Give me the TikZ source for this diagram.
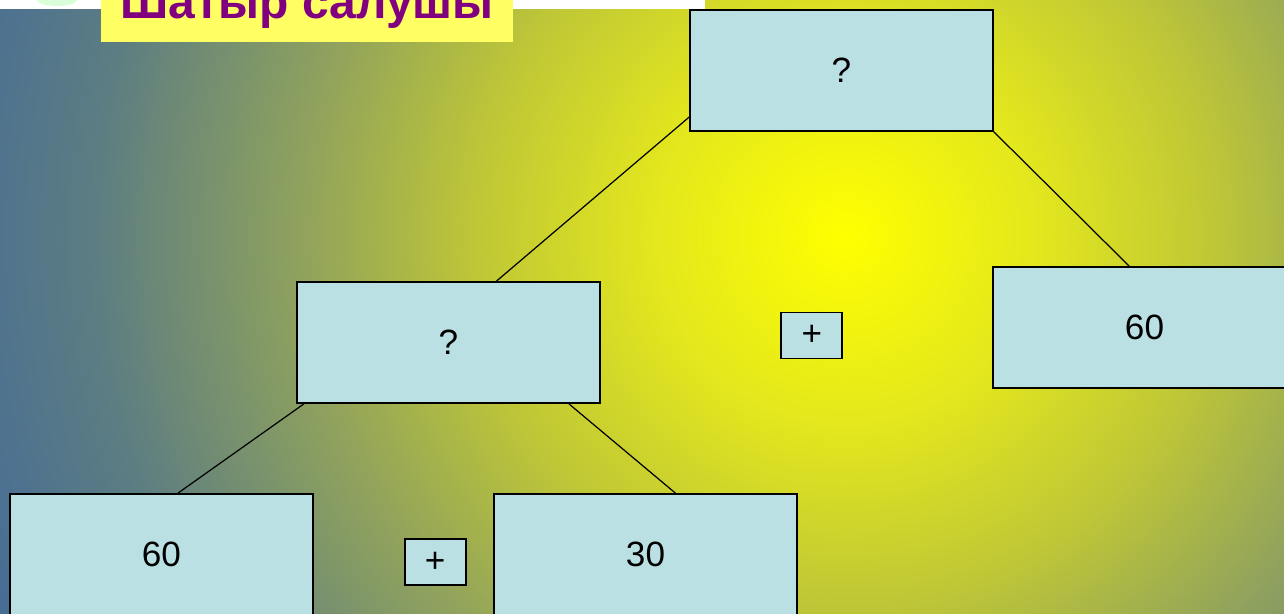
\documentclass[tikz,border=0pt]{standalone}
\usepackage{fontspec}
\setmainfont{Liberation Sans}
\usepackage{tikz}
\usetikzlibrary{positioning}

\definecolor{boxfill}{RGB}{187,224,227}
\definecolor{titlefill}{RGB}{255,255,100}
\definecolor{titletext}{RGB}{128,0,128}
\definecolor{bgA}{RGB}{255,255,0}
\definecolor{bgB}{RGB}{228,232,28}
\definecolor{bgC}{RGB}{190,198,55}
\definecolor{bgD}{RGB}{145,163,92}
\definecolor{bgE}{RGB}{92,125,130}
\definecolor{bgF}{RGB}{70,108,150}
\pgfdeclareradialshading{glow}{\pgfpoint{0bp}{0bp}}{color(0bp)=(bgA); color(5bp)=(bgB); color(10bp)=(bgC); color(14.5bp)=(bgD); color(20.2bp)=(bgE); color(25bp)=(bgF); color(50bp)=(bgF)}

\begin{document}
\begin{tikzpicture}[x=0.02cm, y=-0.02cm]

	\tikzset{
		numbox/.style={
				rectangle, draw=black, fill=boxfill, line width=1pt, inner sep=0pt, minimum width=6.06cm, minimum height=2.42cm, font=\fontsize{20}{24}\selectfont
			},
		opbox/.style={
				rectangle, draw=black, fill=boxfill, line width=1pt, inner sep=0pt, minimum width=1.22cm, minimum height=0.92cm, font=\fontsize{20}{24}\selectfont
			},
		titlebox/.style={
				rectangle, fill=titlefill, text=titletext, inner sep=0pt, minimum width=8.24cm, text height=0.6cm, text depth=0.46cm, font=\fontsize{27.3}{31}\selectfont\bfseries
			},
		link/.style={
				draw=black, line width=0.7pt
			},
	}
	\useasboundingbox (0,0) rectangle (1284,613);
	\clip (0,0) rectangle (1284,613);

	% background
	\shade[shading=glow] (845,235) circle[radius=18.6cm];
	\fill[white] (0,0) rectangle (705,9);
	\fill[green!15!white] (57,0) ellipse[x radius=0.4cm, y radius=0.12cm];

	\node[titlebox, anchor=south](title) at (307,42){Шатыр салушы};

	\node[numbox](top) at (841.5,70.5){?};
	\node[numbox](mid) at (448.5,342.5){?};
	\node[numbox](r60) at (1144.5,327.5){60};
	\node[numbox](l60) at (161.5,554.5){60};
	\node[numbox](m30) at (645.5,554.5){30};

	\node[opbox, left=2.98cm of r60, yshift=-0.16cm](plus1){+};
	\node[opbox, right=1.8cm of l60, yshift=-0.15cm](plus2){+};

	\draw[link] (top.197)--(mid.52.5);
	\draw[link] (top.south east)--(r60.104.4);
	\draw[link] (mid.203.9)--(l60.75.6);
	\draw[link] (mid.333.3)--(m30.64);

\end{tikzpicture}
\end{document}
